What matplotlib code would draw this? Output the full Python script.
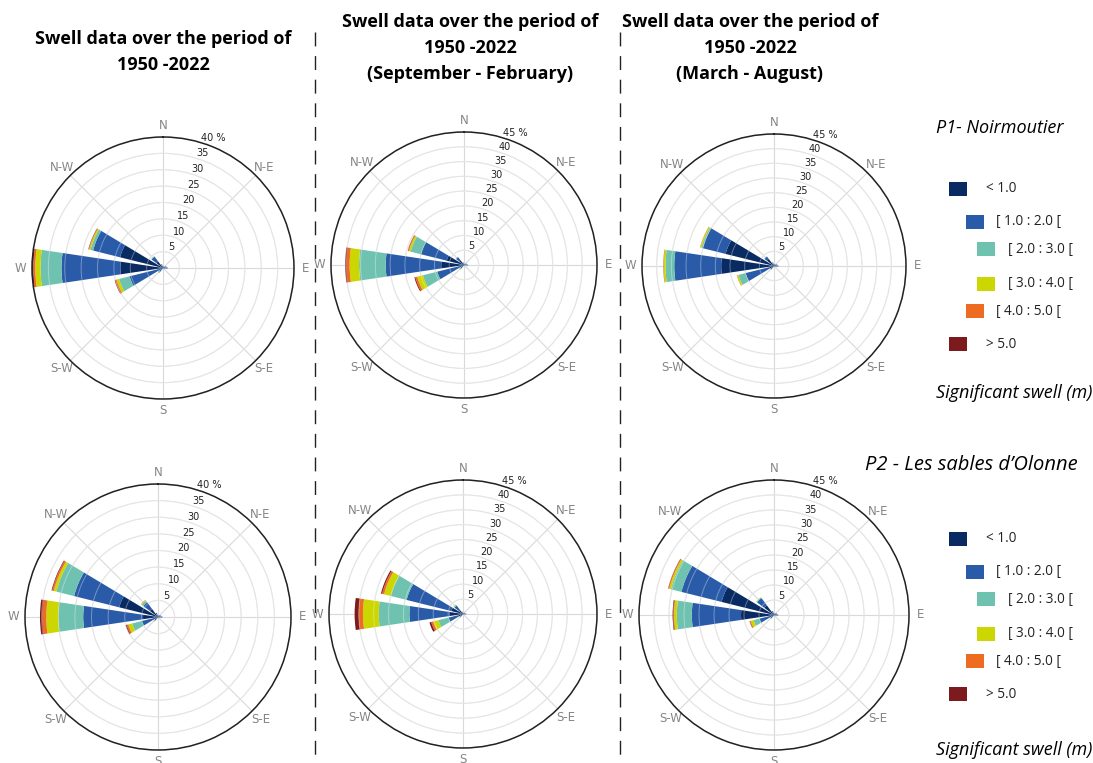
import numpy as np
import matplotlib
matplotlib.use("Agg")
import matplotlib.pyplot as plt
from matplotlib.patches import Rectangle
from matplotlib.lines import Line2D

W, H = 1093, 763

# 16 directions, clockwise from North
directions = ["N", "NNE", "NE", "ENE", "E", "ESE", "SE", "SSE",
              "S", "SSW", "SW", "WSW", "W", "WNW", "NW", "NNW"]
compass_labels = ["N", "N-E", "E", "S-E", "S", "S-W", "W", "N-W"]
classes = ["< 1.0", "[ 1.0 : 2.0 [", "[ 2.0 : 3.0 [", "[ 3.0 : 4.0 [", "[ 4.0 : 5.0 [", "> 5.0"]
class_colors = ["#0a2a62", "#2a5ba8", "#70c2b0", "#ccd600", "#ee6b22", "#7d1a1e"]

# frequency (%) per height class (rows) and direction (columns)
p1_all = [
    [0.4, 0.3, 0.3, 0.6, 0.8, 0.3, 0.1, 0.1, 0.1, 0.2, 0.5, 1.0, 13.0, 13.5, 2.5, 0.8],
    [0.2, 0.2, 0.3, 0.5, 0.6, 0.2, 0.1, 0.1, 0.1, 0.2, 1.0, 9.5, 18.0, 8.5, 1.8, 0.4],
    [0, 0, 0, 0, 0, 0, 0, 0, 0, 0, 0.4, 3.3, 6.4, 0.8, 0.2, 0],
    [0, 0, 0, 0, 0, 0, 0, 0, 0, 0, 0.1, 0.8, 1.6, 0.4, 0, 0],
    [0, 0, 0, 0, 0, 0, 0, 0, 0, 0, 0, 0.4, 0.6, 0.2, 0, 0],
    [0, 0, 0, 0, 0, 0, 0, 0, 0, 0, 0, 0.2, 0.4, 0.1, 0, 0],
]
p1_winter = [
    [0.3, 0.2, 0.3, 0.5, 0.6, 0.2, 0.1, 0.1, 0.1, 0.2, 0.4, 1.0, 7.7, 6.0, 2.0, 0.6],
    [0.2, 0.2, 0.3, 0.5, 0.7, 0.2, 0.1, 0.1, 0.1, 0.2, 1.0, 8.3, 18.8, 9.0, 1.3, 0.4],
    [0, 0, 0, 0, 0.1, 0, 0, 0, 0, 0, 0.5, 5.0, 9.0, 3.6, 0.2, 0],
    [0, 0, 0, 0, 0, 0, 0, 0, 0, 0, 0.1, 2.0, 3.2, 0.6, 0, 0],
    [0, 0, 0, 0, 0, 0, 0, 0, 0, 0, 0, 0.7, 1.1, 0.3, 0, 0],
    [0, 0, 0, 0, 0, 0, 0, 0, 0, 0, 0, 0.3, 0.4, 0.1, 0, 0],
]
p1_summer = [
    [0.5, 0.4, 0.4, 0.8, 1.0, 0.3, 0.1, 0.1, 0.1, 0.2, 0.6, 1.5, 18.0, 17.0, 3.0, 1.0],
    [0.2, 0.2, 0.3, 0.4, 0.5, 0.2, 0.1, 0.1, 0.1, 0.2, 0.8, 8.5, 16.0, 8.0, 1.0, 0.3],
    [0, 0, 0, 0, 0, 0, 0, 0, 0, 0, 0.2, 2.5, 3.0, 0.5, 0.1, 0],
    [0, 0, 0, 0, 0, 0, 0, 0, 0, 0, 0, 0.5, 0.6, 0.4, 0, 0],
    [0, 0, 0, 0, 0, 0, 0, 0, 0, 0, 0, 0.1, 0.1, 0.1, 0, 0],
    [0, 0, 0, 0, 0, 0, 0, 0, 0, 0, 0, 0, 0.05, 0, 0, 0],
]
p2_all = [
    [0.3, 0.3, 0.4, 0.6, 0.8, 0.3, 0.1, 0.1, 0.1, 0.2, 0.5, 1.0, 4.5, 12.0, 3.0, 0.8],
    [0.2, 0.2, 0.3, 0.4, 0.5, 0.2, 0.1, 0.1, 0.1, 0.2, 0.8, 4.0, 18.0, 14.0, 2.5, 0.5],
    [0, 0, 0, 0, 0, 0, 0, 0, 0, 0, 0.3, 3.0, 7.5, 5.5, 0.6, 0],
    [0, 0, 0, 0, 0, 0, 0, 0, 0, 0, 0.1, 1.2, 3.6, 0.8, 0.2, 0],
    [0, 0, 0, 0, 0, 0, 0, 0, 0, 0, 0, 0.5, 1.2, 0.5, 0.1, 0],
    [0, 0, 0, 0, 0, 0, 0, 0, 0, 0, 0, 0.3, 0.7, 0.2, 0, 0],
]
p2_winter = [
    [0.2, 0.2, 0.3, 0.4, 0.5, 0.2, 0.1, 0.1, 0.1, 0.2, 0.4, 1.5, 4.5, 4.0, 1.5, 0.5],
    [0.2, 0.2, 0.3, 0.4, 0.6, 0.2, 0.1, 0.1, 0.1, 0.2, 0.8, 3.5, 13.5, 15.5, 2.0, 0.4],
    [0, 0, 0, 0, 0, 0, 0, 0, 0, 0, 0.3, 3.5, 10.3, 5.5, 0.4, 0],
    [0, 0, 0, 0, 0, 0, 0, 0, 0, 0, 0.1, 1.8, 5.3, 2.3, 0.1, 0],
    [0, 0, 0, 0, 0, 0, 0, 0, 0, 0, 0, 0.7, 1.4, 0.7, 0, 0],
    [0, 0, 0, 0, 0, 0, 0, 0, 0, 0, 0, 0.6, 1.4, 0.4, 0, 0],
]
p2_summer = [
    [0.4, 0.3, 0.4, 0.7, 0.9, 0.3, 0.1, 0.1, 0.1, 0.2, 0.6, 1.0, 11.0, 18.0, 4.0, 1.0],
    [0.2, 0.2, 0.3, 0.4, 0.5, 0.2, 0.1, 0.1, 0.1, 0.2, 0.8, 4.0, 16.4, 13.8, 3.0, 0.4],
    [0, 0, 0, 0, 0, 0, 0, 0, 0, 0, 0.2, 2.0, 5.0, 3.6, 0.3, 0],
    [0, 0, 0, 0, 0, 0, 0, 0, 0, 0, 0, 1.0, 0.9, 0.6, 0.1, 0],
    [0, 0, 0, 0, 0, 0, 0, 0, 0, 0, 0, 0.3, 0.3, 0.3, 0, 0],
    [0, 0, 0, 0, 0, 0, 0, 0, 0, 0, 0, 0.1, 0.2, 0.1, 0, 0],
]

col_titles = ["Swell data over the period of\n1950 -2022",
              "Swell data over the period of\n1950 -2022\n(September - February)",
              "Swell data over the period of\n1950 -2022\n(March - August)"]
site_titles = ["P1- Noirmoutier", "P2 - Les sables d\u2019Olonne"]
legend_title = "Significant swell (m)"

fig = plt.figure(figsize=(W / 100, H / 100), dpi=100)
fig.patch.set_facecolor("white")

def fx(x):
    return x / W

def fy(y):
    return 1 - y / H

def draw_rose(cx, cy, r, data, rmax):
    ax = fig.add_axes([fx(cx - r), fy(cy + r), 2 * r / W, 2 * r / H], projection="polar")
    ax.set_theta_zero_location("N")
    ax.set_theta_direction(-1)
    theta = np.deg2rad(np.arange(len(directions)) * 22.5)
    bottom = np.zeros(len(directions))
    for k in range(len(classes)):
        vals = np.array(data[k], dtype=float)
        ax.bar(theta, vals, width=np.deg2rad(17), bottom=bottom,
               color=class_colors[k], edgecolor="none", zorder=2)
        bottom += vals
    ax.set_ylim(0, rmax)
    rings = np.arange(5, rmax + 1, 5)
    ax.set_yticks(rings)
    ax.set_yticklabels([str(v) if v < rmax else f"{v} %" for v in rings],
                       fontsize=7, color="#222222")
    ax.set_rlabel_position(17)
    ax.set_xticks(np.deg2rad(np.arange(0, 360, 45)))
    ax.set_xticklabels(compass_labels, fontsize=8.5, color="#858585")
    ax.tick_params(axis="x", pad=-2)
    ax.grid(color="#d9d9d9", lw=0.8)
    # faint rings over the bars
    tt = np.linspace(0, 2 * np.pi, 361)
    for rv in rings[:-1]:
        ax.plot(tt, np.full_like(tt, rv), color="white", lw=0.7, alpha=0.35, zorder=3)
    ax.spines["polar"].set_color("#222222")
    ax.spines["polar"].set_linewidth(1.1)
    return ax

roses = [
    (163, 268, 131, p1_all, 40),
    (464, 265, 133, p1_winter, 45),
    (774, 266, 132, p1_summer, 45),
    (158, 617, 133, p2_all, 40),
    (463, 614, 134, p2_winter, 45),
    (774, 615, 135, p2_summer, 45),
]
for cx, cy, r, data, rmax in roses:
    draw_rose(cx, cy, r, data, rmax)

title_font = ["Liberation Sans Narrow", "Open Sans", "DejaVu Sans"]
fig.text(fx(163), fy(52), col_titles[0], ha="center", va="center", fontsize=13,
         fontweight="bold", family=title_font, linespacing=1.5)
fig.text(fx(470), fy(48), col_titles[1], ha="center", va="center", fontsize=13,
         fontweight="bold", family=title_font, linespacing=1.55)
fig.text(fx(750), fy(48), col_titles[2], ha="center", va="center", fontsize=13,
         fontweight="bold", family=title_font, linespacing=1.55)

# dashed separators
for xs in (315, 620):
    fig.add_artist(Line2D([fx(xs), fx(xs)], [fy(32), fy(763)], color="#222222",
                          lw=1.0, linestyle=(0, (10, 7)), transform=fig.transFigure))

# right-side legends
sq_x = [949, 966, 977, 977, 966, 949]
sq_y = [189, 222, 249, 284, 311, 344]
txt_off = [37, 30, 31, 31, 30, 37]
text_font = ["Open Sans", "DejaVu Sans"]
blocks = [(128, 1063, 13, 393), (465, 1078, 14.5, 750)]
for blk, (site_y, site_x, site_fs, lab_y) in enumerate(blocks):
    dy = 350 * blk
    fig.text(fx(site_x), fy(site_y), site_titles[blk], ha="right", va="center",
             fontsize=site_fs, style="italic", family=text_font)
    fig.text(fx(1092), fy(lab_y), legend_title, ha="right", va="center",
             fontsize=13, style="italic", family=text_font)
    for k in range(len(classes)):
        x0 = sq_x[k]
        yc = sq_y[k] + dy
        fig.add_artist(Rectangle((fx(x0), fy(yc + 7)), 18 / W, 14 / H,
                                 facecolor=class_colors[k], edgecolor="none",
                                 transform=fig.transFigure))
        fig.text(fx(x0 + txt_off[k]), fy(yc), classes[k], ha="left", va="center",
                 fontsize=9.8, family=text_font, color="#222222")

fig.savefig("out.png", dpi=100, facecolor="white")
